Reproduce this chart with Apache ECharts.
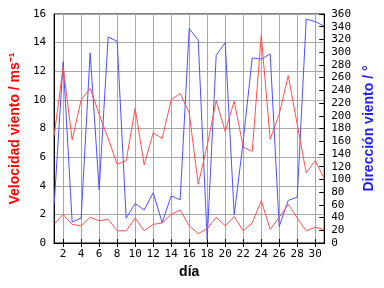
<!DOCTYPE html>
<html lang="es">
  <head>
    <meta charset="UTF-8" />
    <title>Viento</title>
    <script src="https://cdn.jsdelivr.net/npm/echarts@6/dist/echarts.min.js"></script>
    <style>
      html, body { margin: 0; padding: 0; background: #fff; }
      #main { width: 384px; height: 288px; }
    </style>
  </head>
  <body>
    <div id="main"></div>
    <script>
      // dias del mes
      var dias = [];
      for (var d = 1; d <= 31; d++) dias.push(d);

      // velocidad maxima (m/s)
      var velMax = [7.5, 12.3, 7.2, 10.0, 10.8, 9.0, 7.3, 5.5, 5.75, 9.4, 5.45, 7.7, 7.3, 10.0, 10.45, 9.1,
        4.1, 6.8, 9.95, 7.8, 9.9, 6.7, 6.4, 14.5, 7.25, 9.0, 11.7, 8.3, 4.9, 5.75, 4.5];
      // velocidad media (m/s)
      var velMedia = [1.3, 2.0, 1.3, 1.2, 1.8, 1.55, 1.65, 0.85, 0.85, 1.75, 0.85, 1.3, 1.4, 2.0, 2.3, 1.2,
        0.65, 1.0, 1.8, 1.2, 1.85, 0.85, 1.4, 2.95, 0.95, 1.8, 2.7, 1.75, 0.85, 1.1, 0.95];
      // direccion (grados)
      var direccion = [60, 285, 33, 39, 299, 84, 324, 317, 39, 62, 52, 79, 32, 74, 68, 337,
        319, 5, 295, 315, 44, 160, 291, 289, 297, 26, 67, 72, 352, 348, 341];

      var rojo = "#ff5050";
      var azul = "#5050ff";
      var gris = "#a8a8a8";
      var monoFont = "DejaVu Sans Mono";

      function par(i) {
        return i % 2 === 1;
      }

      var chart = echarts.init(document.getElementById("main"), null, { renderer: "canvas" });
      var option = {
        animation: false,
        backgroundColor: "#fff",
        grid: {
          left: 49, right: 48, top: 14, bottom: 45,
          show: true, borderColor: "#000", borderWidth: 1
        },
        xAxis: [
          {
            type: "category",
            data: dias,
            boundaryGap: false,
            name: "día",
            nameLocation: "middle",
            nameGap: 21,
            nameTextStyle: { fontFamily: "Liberation Sans", fontWeight: "bold", fontSize: 14, color: "#000" },
            axisLine: { lineStyle: { color: "#000" } },
            axisTick: { inside: true, length: 4, interval: par, lineStyle: { color: "#000" } },
            axisLabel: { interval: par, margin: 6, fontFamily: monoFont, fontSize: 11, color: "#000" },
            splitLine: { show: true, interval: par, lineStyle: { color: gris } }
          },
          {
            type: "category",
            data: dias,
            boundaryGap: false,
            position: "top",
            axisLine: { lineStyle: { color: "#000" } },
            axisTick: { inside: true, length: 4, interval: par, lineStyle: { color: "#000" } },
            axisLabel: { show: false },
            splitLine: { show: false }
          }
        ],
        yAxis: [
          {
            type: "value",
            min: 0, max: 16, interval: 2,
            name: "Velocidad viento / ms⁻¹",
            nameLocation: "middle",
            nameRotate: 90,
            nameGap: 26,
            nameTextStyle: { fontFamily: "Liberation Sans", fontWeight: "bold", fontSize: 14, color: "#ff0000" },
            axisLine: { show: true, lineStyle: { color: "#000" } },
            axisTick: { show: false },
            axisLabel: { margin: 8, fontFamily: monoFont, fontSize: 11, color: "#000" },
            splitLine: { show: true, lineStyle: { color: gris } }
          },
          {
            type: "value",
            min: 0, max: 360, interval: 20,
            position: "right",
            name: "Dirección viento / °",
            nameLocation: "middle",
            nameRotate: 90,
            nameGap: 30,
            nameTextStyle: { fontFamily: "Liberation Sans", fontWeight: "bold", fontSize: 14, color: "#2020ff" },
            axisLine: { show: true, lineStyle: { color: "#000" } },
            axisTick: { show: true, inside: true, length: 5, lineStyle: { color: "#000" } },
            axisLabel: { margin: 7, fontFamily: monoFont, fontSize: 11, color: "#000" },
            splitLine: { show: false }
          }
        ],
        series: [
          {
            name: "Dirección",
            type: "line",
            yAxisIndex: 1,
            data: direccion,
            symbol: "none",
            lineStyle: { color: azul, width: 1 }
          },
          {
            name: "Velocidad máxima",
            type: "line",
            yAxisIndex: 0,
            data: velMax,
            symbol: "none",
            lineStyle: { color: rojo, width: 1 }
          },
          {
            name: "Velocidad media",
            type: "line",
            yAxisIndex: 0,
            data: velMedia,
            symbol: "none",
            lineStyle: { color: rojo, width: 1 }
          }
        ]
      };
      chart.setOption(option);
    </script>
  </body>
</html>
